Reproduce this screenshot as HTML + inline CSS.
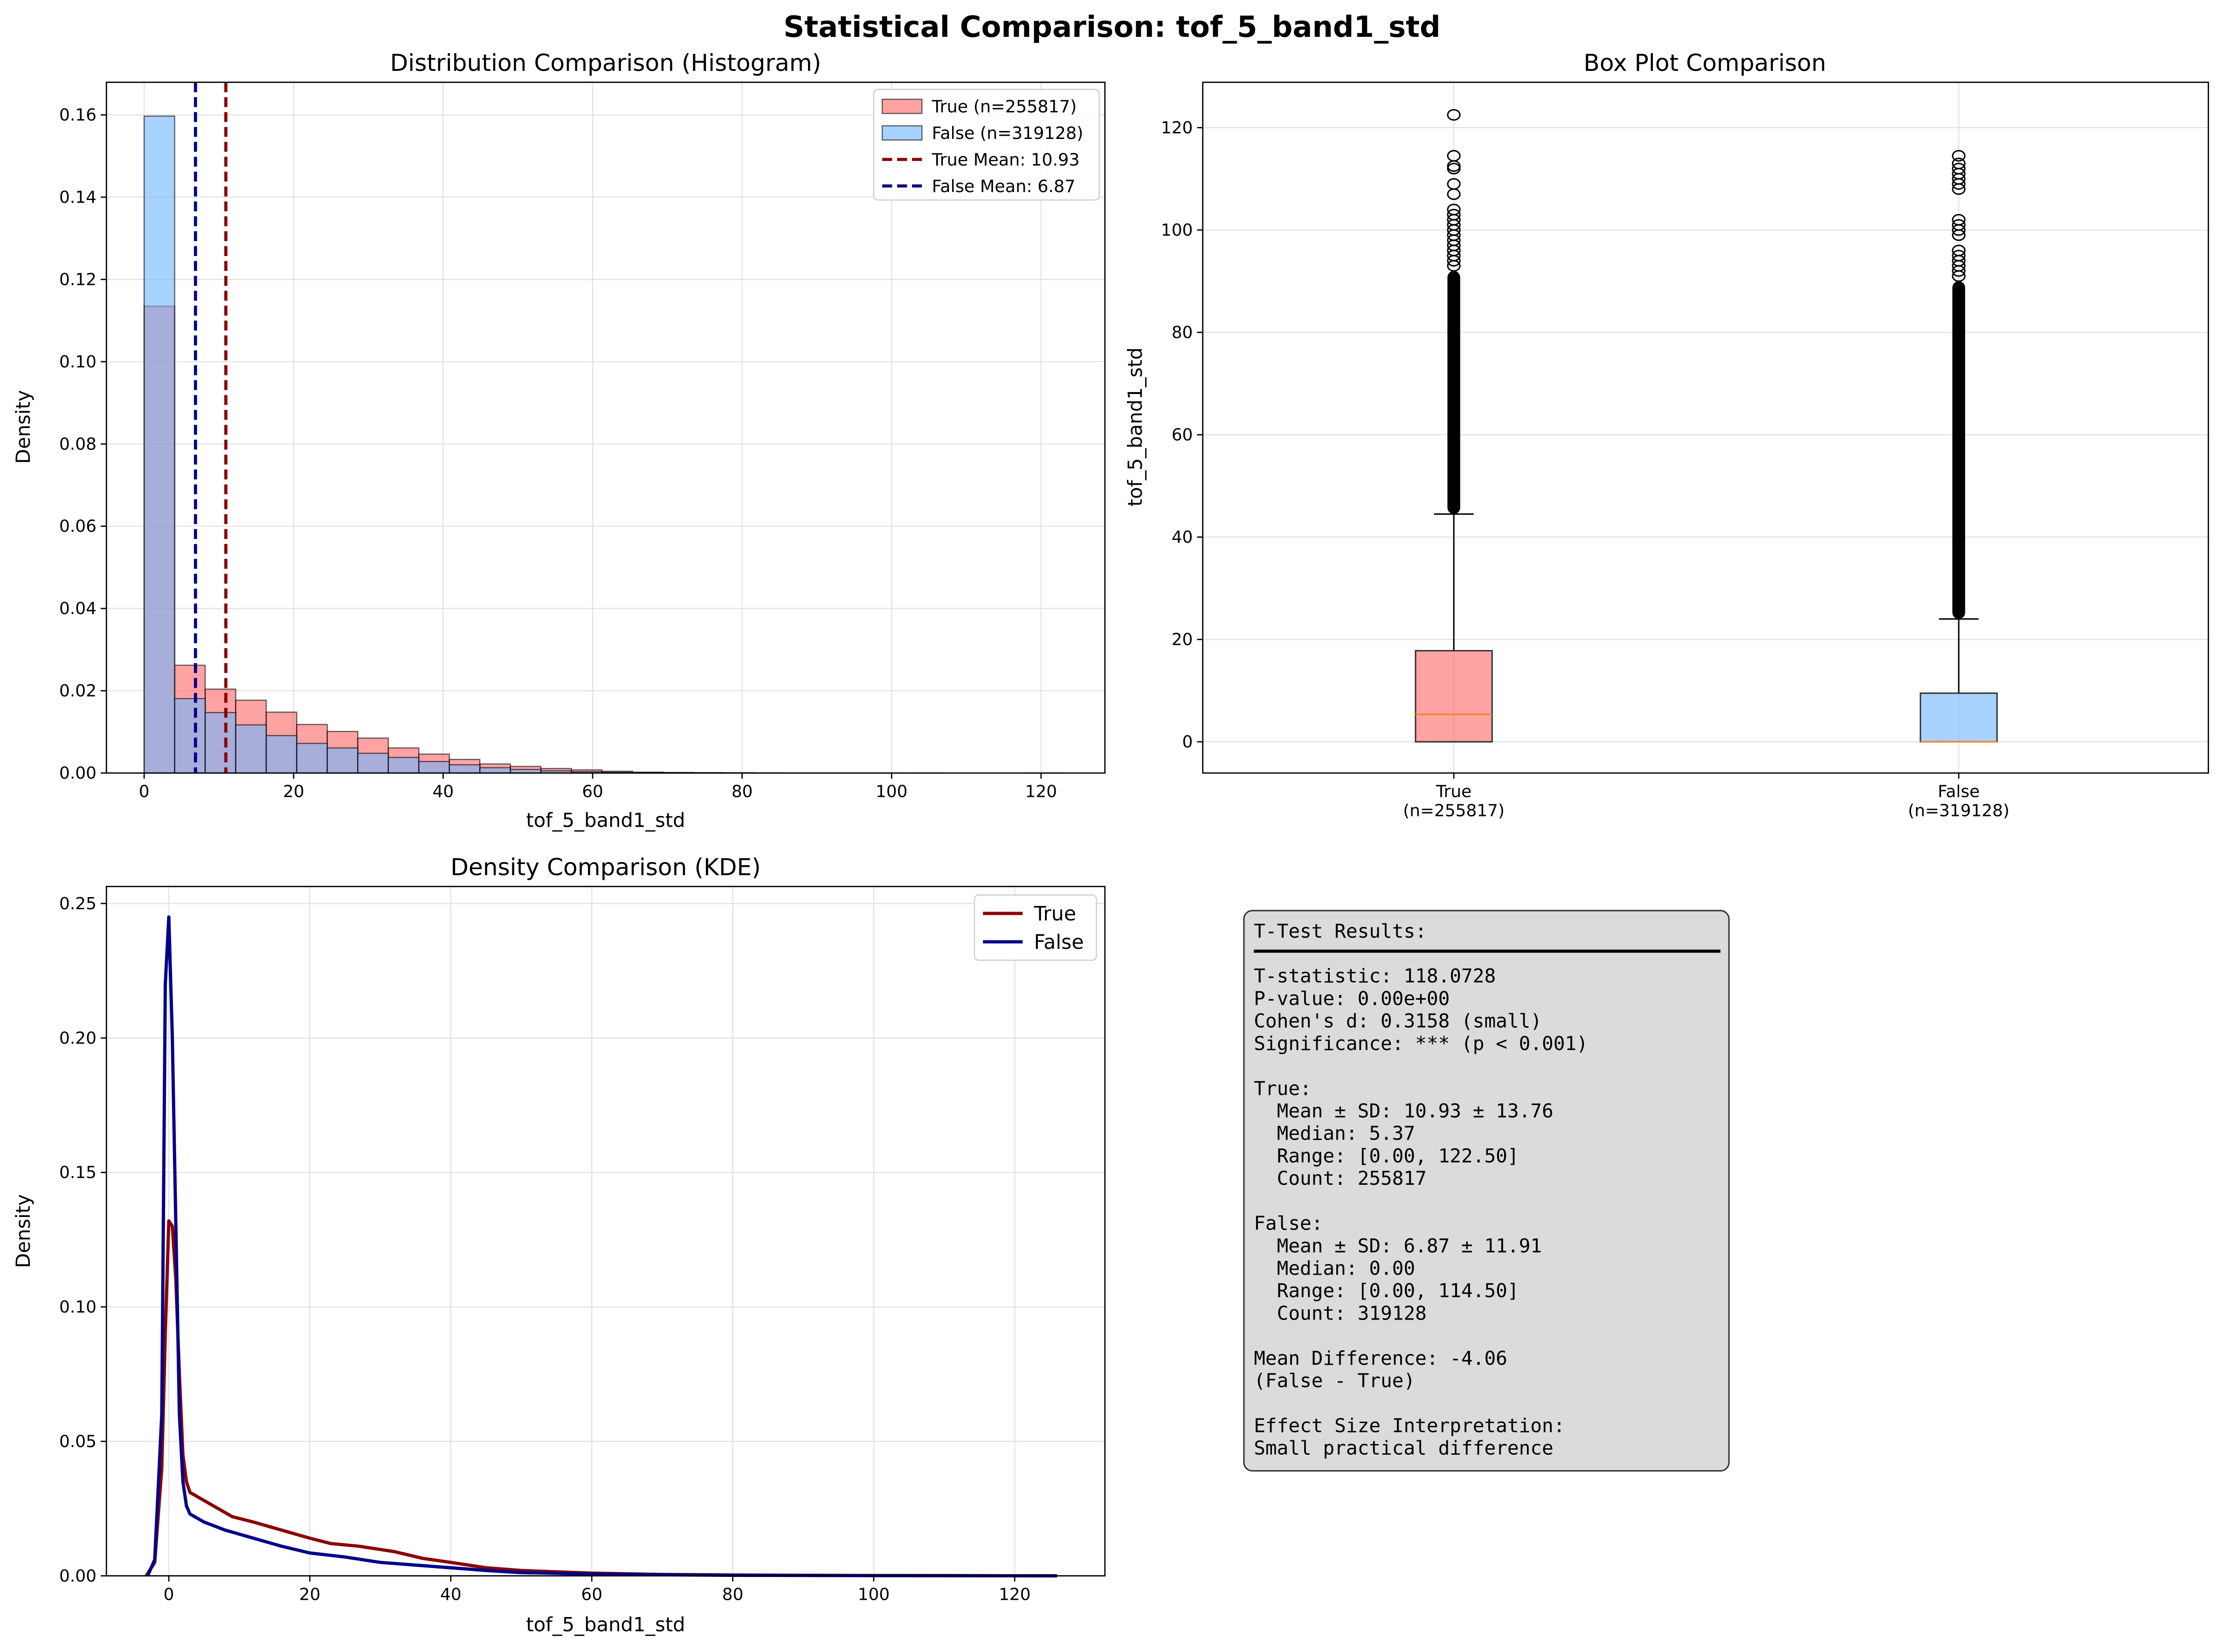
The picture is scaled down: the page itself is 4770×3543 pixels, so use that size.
<!DOCTYPE html>
<html><head><meta charset="utf-8">
<style>
html,body{margin:0;padding:0;background:#fff;}
svg{display:block;font-family:"DejaVu Sans","Liberation Sans",sans-serif;}
.mono{white-space:pre;}
</style></head>
<body>
<svg id="fig" width="4770" height="3543" viewBox="0 0 1568 1164.7" xmlns="http://www.w3.org/2000/svg">
<rect width="1568" height="1165" fill="#fff"/>
<text x="784" y="26" text-anchor="middle" font-size="20.5" font-weight="bold">Statistical Comparison: tof_5_band1_std</text>
<g id="hist"></g>
<g id="box"></g>
<g id="kde"></g>
<g id="stats"></g>
</svg>
<script>
const histBinWidth = 122.5/30;
const histTrue = [0.1135,0.0262,0.0204,0.0177,0.0148,0.0118,0.0101,0.0085,0.0061,0.0046,0.0033,0.0022,0.0016,0.0011,0.00076,0.00043,0.0002,0.00012,0.00008,0.00005,0.00003,0.00002,0.00001,0.00001,0.00001,0.00001,0,0,0,0.000005];
const histFalse = [0.1597,0.0181,0.0147,0.0117,0.0091,0.0072,0.0061,0.0048,0.0038,0.0028,0.0020,0.0013,0.00087,0.00054,0.00033,0.0002,0.00012,0.00008,0.00005,0.00003,0.00002,0.00001,0.00001,0.00001,0,0,0,0,0,0];
const meanTrue = 10.93, meanFalse = 6.87;
const histXTicks = [0,20,40,60,80,100,120];
const histYTicks = [0,0.02,0.04,0.06,0.08,0.10,0.12,0.14,0.16];

const boxCats = ["True\n(n=255817)","False\n(n=319128)"];
const boxQ1 = [0,0];
const boxMed = [5.37,0];
const boxQ3 = [17.8,9.5];
const boxWhiskHi = [44.5,24];
const boxDenseTop = [92,90];
const boxOutliersTrue = [93,94,95,96,97,98,99,100,101,102,103,104,107,109,112,112.5,114.5,122.5];
const boxOutliersFalse = [91,92,93,94,95,96,99,100,101,102,108,109,110,111,112,113,114.5];
const boxYTicks = [0,20,40,60,80,100,120];

const kdeTrueX = [-3.2,-2,-1,-0.5,0,0.5,1,1.5,2,2.5,3,5,7,9,12,16,20,23,27,32,36,40,45,50,60,70,80,100,126];
const kdeTrueY = [0,0.005,0.04,0.09,0.132,0.13,0.11,0.075,0.045,0.035,0.031,0.028,0.025,0.022,0.020,0.017,0.014,0.012,0.011,0.009,0.0065,0.005,0.003,0.002,0.001,0.0005,0.0003,0.0001,0];
const kdeFalseX = [-3,-2,-1,-0.5,0,0.5,1,1.5,2,2.5,3,5,8,12,16,20,25,30,35,40,45,50,60,70,80,100,126];
const kdeFalseY = [0,0.006,0.06,0.22,0.245,0.2,0.13,0.06,0.035,0.026,0.023,0.020,0.017,0.014,0.011,0.0085,0.007,0.005,0.004,0.003,0.002,0.0012,0.0007,0.0004,0.0002,0.0001,0];
const kdeXTicks = [0,20,40,60,80,100,120];
const kdeYTicks = [0,0.05,0.10,0.15,0.20,0.25];

const NS="http://www.w3.org/2000/svg";
function mk(parent,tag,attrs,text){const e=document.createElementNS(NS,tag);for(const k in attrs)e.setAttribute(k,attrs[k]);if(text!==undefined)e.textContent=text;parent.appendChild(e);return e;}

// ---------- Histogram ----------
(function(){
 const g=document.getElementById('hist');
 const L=75,R=779,T=58,B=545;
 const x=v=>101.6+v*5.27, y=v=>B-v*(B-81)/0.16;
 for(const t of histXTicks){const l=mk(g,'line',{x1:x(t),x2:x(t),y1:T,y2:B,stroke:'#e3e3e3','stroke-width':0.8});}
 for(const t of histYTicks){const l=mk(g,'line',{x1:L,x2:R,y1:y(t),y2:y(t),stroke:'#e3e3e3','stroke-width':0.8});}
 histTrue.forEach((v,i)=>{if(v<=0)return;const r=mk(g,'rect',{x:x(i*histBinWidth),y:y(v),width:histBinWidth*5.27,height:B-y(v),fill:'rgba(255,100,100,0.6)',stroke:'rgba(0,0,0,0.6)','stroke-width':0.8});});
 histFalse.forEach((v,i)=>{if(v<=0)return;const r=mk(g,'rect',{x:x(i*histBinWidth),y:y(v),width:histBinWidth*5.27,height:B-y(v),fill:'rgba(110,180,255,0.6)',stroke:'rgba(0,0,0,0.6)','stroke-width':0.8});});
 let m=mk(g,'line',{x1:x(meanTrue),x2:x(meanTrue),y1:T,y2:B,stroke:'#8b0000','stroke-width':2.2,'stroke-dasharray':'7,3.5'});
 m=mk(g,'line',{x1:x(meanFalse),x2:x(meanFalse),y1:T,y2:B,stroke:'#00008b','stroke-width':2.2,'stroke-dasharray':'7,3.5'});
 const f=mk(g,'rect',{x:L,y:T,width:R-L,height:B-T,fill:'none',stroke:'#000','stroke-width':0.9});
 for(const t of histXTicks){mk(g,'line',{x1:x(t),x2:x(t),y1:B,y2:B+4,stroke:'#000','stroke-width':0.9});const s=mk(g,'text',{x:x(t),y:B+17,'text-anchor':'middle','font-size':11.8},String(t));}
 for(const t of histYTicks){mk(g,'line',{x1:L-4,x2:L,y1:y(t),y2:y(t),stroke:'#000','stroke-width':0.9});const s=mk(g,'text',{x:L-7,y:y(t)+4,'text-anchor':'end','font-size':11.8},t.toFixed(2));}
 let s=mk(g,'text',{x:427,y:50,'text-anchor':'middle','font-size':16.5},'Distribution Comparison (Histogram)');
 s=mk(g,'text',{x:427,y:583,'text-anchor':'middle','font-size':13.7},'tof_5_band1_std');
 s=mk(g,'text',{x:21,y:301,'text-anchor':'middle','font-size':13.7,transform:'rotate(-90 21 301)'},'Density');
 const lg=mk(g,'g',{});
 mk(lg,'rect',{x:616,y:63,width:159,height:78,rx:3,fill:'#fff',stroke:'#ccc','stroke-width':0.8,'fill-opacity':0.85});
 const items=[['rect','rgba(255,100,100,0.6)','True (n=255817)'],['rect','rgba(110,180,255,0.6)','False (n=319128)'],['line','#8b0000','True Mean: 10.93'],['line','#00008b','False Mean: 6.87']];
 items.forEach((it,i)=>{const yy=75+i*18.7;
  if(it[0]=='rect')mk(lg,'rect',{x:622,y:yy-5,width:28,height:10,fill:it[1],stroke:'rgba(0,0,0,0.6)','stroke-width':0.8});
  else mk(lg,'line',{x1:622,x2:650,y1:yy,y2:yy,stroke:it[1],'stroke-width':2.2,'stroke-dasharray':'7,3.5'});
  const e=mk(lg,'text',{x:657,y:yy+4.3,'font-size':12},it[2]);});
})();

// ---------- Box plot ----------
(function(){
 const g=document.getElementById('box');
 const L=848,R=1557,T=58,B=545;
 const y=v=>523-v*(523-90)/120;
 const cx=[1025,1381], hw=27;
 for(const c of cx)mk(g,'line',{x1:c,x2:c,y1:T,y2:B,stroke:'#e3e3e3','stroke-width':0.8});
 for(const t of boxYTicks)mk(g,'line',{x1:L,x2:R,y1:y(t),y2:y(t),stroke:'#e3e3e3','stroke-width':0.8});
 const fills=['rgba(255,100,100,0.6)','rgba(110,180,255,0.6)'];
 const outs=[boxOutliersTrue,boxOutliersFalse];
 [0,1].forEach(i=>{const c=cx[i];
  const bg=mk(g,'g',{});
  mk(bg,'line',{x1:c,x2:c,y1:y(boxQ3[i]),y2:y(boxWhiskHi[i]),stroke:'#000','stroke-width':1});
  mk(bg,'line',{x1:c-14,x2:c+14,y1:y(boxWhiskHi[i]),y2:y(boxWhiskHi[i]),stroke:'#000','stroke-width':1});
  mk(bg,'line',{x1:c-14,x2:c+14,y1:y(boxQ1[i]),y2:y(boxQ1[i]),stroke:'#000','stroke-width':1});
  mk(bg,'rect',{x:c-hw,y:y(boxQ3[i]),width:2*hw,height:y(boxQ1[i])-y(boxQ3[i]),fill:fills[i],stroke:'#333','stroke-width':1});
  mk(bg,'line',{x1:c-hw,x2:c+hw,y1:y(boxMed[i]),y2:y(boxMed[i]),stroke:'#ff7f0e','stroke-width':1});
  mk(bg,'rect',{x:c-4.5,y:y(boxDenseTop[i]),width:9,height:y(boxWhiskHi[i])-y(boxDenseTop[i]),rx:4.5,fill:'#000'});
  for(const o of outs[i]){const e=mk(bg,'ellipse',{cx:c,cy:y(o),rx:4.3,ry:3.6,fill:'none',stroke:'#000','stroke-width':1});}
 });
 mk(g,'rect',{x:L,y:T,width:R-L,height:B-T,fill:'none',stroke:'#000','stroke-width':0.9});
 for(const t of boxYTicks){mk(g,'line',{x1:L-4,x2:L,y1:y(t),y2:y(t),stroke:'#000','stroke-width':0.9});const s=mk(g,'text',{x:L-7,y:y(t)+4,'text-anchor':'end','font-size':11.8},String(t));}
 boxCats.forEach((c,i)=>{mk(g,'line',{x1:cx[i],x2:cx[i],y1:B,y2:B+4,stroke:'#000','stroke-width':0.9});
  const parts=c.split('\n');parts.forEach((p,j)=>{const s=mk(g,'text',{x:cx[i],y:B+17+j*13.5,'text-anchor':'middle','font-size':11.8},p);});});
 let s=mk(g,'text',{x:1202,y:50,'text-anchor':'middle','font-size':16.5},'Box Plot Comparison');
 s=mk(g,'text',{x:805,y:301,'text-anchor':'middle','font-size':13.7,transform:'rotate(-90 805 301)'},'tof_5_band1_std');
})();

// ---------- KDE ----------
(function(){
 const g=document.getElementById('kde');
 const L=75,R=779,T=625,B=1111;
 const x=v=>119+v*4.97, y=v=>B-v*(B-637)/0.25;
 for(const t of kdeXTicks)mk(g,'line',{x1:x(t),x2:x(t),y1:T,y2:B,stroke:'#e3e3e3','stroke-width':0.8});
 for(const t of kdeYTicks)mk(g,'line',{x1:L,x2:R,y1:y(t),y2:y(t),stroke:'#e3e3e3','stroke-width':0.8});
 function path(xs,ys){return xs.map((v,i)=>(i?'L':'M')+x(v).toFixed(2)+' '+y(ys[i]).toFixed(2)).join(' ');}
 let p=mk(g,'path',{d:path(kdeTrueX,kdeTrueY),fill:'none',stroke:'#8b0000','stroke-width':2.3,'stroke-linejoin':'round'});
 p=mk(g,'path',{d:path(kdeFalseX,kdeFalseY),fill:'none',stroke:'#00008b','stroke-width':2.3,'stroke-linejoin':'round'});
 mk(g,'rect',{x:L,y:T,width:R-L,height:B-T,fill:'none',stroke:'#000','stroke-width':0.9});
 for(const t of kdeXTicks){mk(g,'line',{x1:x(t),x2:x(t),y1:B,y2:B+4,stroke:'#000','stroke-width':0.9});const s=mk(g,'text',{x:x(t),y:B+17,'text-anchor':'middle','font-size':11.8},String(t));}
 for(const t of kdeYTicks){mk(g,'line',{x1:L-4,x2:L,y1:y(t),y2:y(t),stroke:'#000','stroke-width':0.9});const s=mk(g,'text',{x:L-7,y:y(t)+4,'text-anchor':'end','font-size':11.8},t.toFixed(2));}
 let s=mk(g,'text',{x:427,y:617,'text-anchor':'middle','font-size':16.5},'Density Comparison (KDE)');
 s=mk(g,'text',{x:427,y:1150,'text-anchor':'middle','font-size':13.7},'tof_5_band1_std');
 s=mk(g,'text',{x:21,y:868,'text-anchor':'middle','font-size':13.7,transform:'rotate(-90 21 868)'},'Density');
 const lg=mk(g,'g',{});
 mk(lg,'rect',{x:687,y:631,width:86,height:46,rx:3,fill:'#fff',stroke:'#ccc','stroke-width':0.8});
 [['#8b0000','True'],['#00008b','False']].forEach((it,i)=>{const yy=644+i*20;mk(lg,'line',{x1:693,x2:721,y1:yy,y2:yy,stroke:it[0],'stroke-width':2.3});const e=mk(lg,'text',{x:729,y:yy+5,'font-size':14},it[1]);});
})();

// ---------- Stats text box ----------
(function(){
 const g=document.getElementById('stats');
 mk(g,'rect',{x:877,y:642,width:342,height:395,rx:6,fill:'#dbdbdb',stroke:'#333','stroke-width':1});
 mk(g,'rect',{x:884,y:669.5,width:329,height:2.2,fill:'#000'});
 const lines=[['T-Test Results:',0],['T-statistic: 118.0728',2],['P-value: 0.00e+00',3],["Cohen's d: 0.3158 (small)",4],['Significance: *** (p < 0.001)',5],
  ['True:',7],['  Mean ± SD: 10.93 ± 13.76',8],['  Median: 5.37',9],['  Range: [0.00, 122.50]',10],['  Count: 255817',11],
  ['False:',13],['  Mean ± SD: 6.87 ± 11.91',14],['  Median: 0.00',15],['  Range: [0.00, 114.50]',16],['  Count: 319128',17],
  ['Mean Difference: -4.06',19],['(False - True)',20],['Effect Size Interpretation:',22],['Small practical difference',23]];
 for(const [t,r] of lines){const e=mk(g,'text',{x:884,y:661+r*15.85,'font-size':13.5,'font-family':'"DejaVu Sans Mono","Liberation Mono",monospace','class':'mono'},t);}
})();
</script>
</body></html>
